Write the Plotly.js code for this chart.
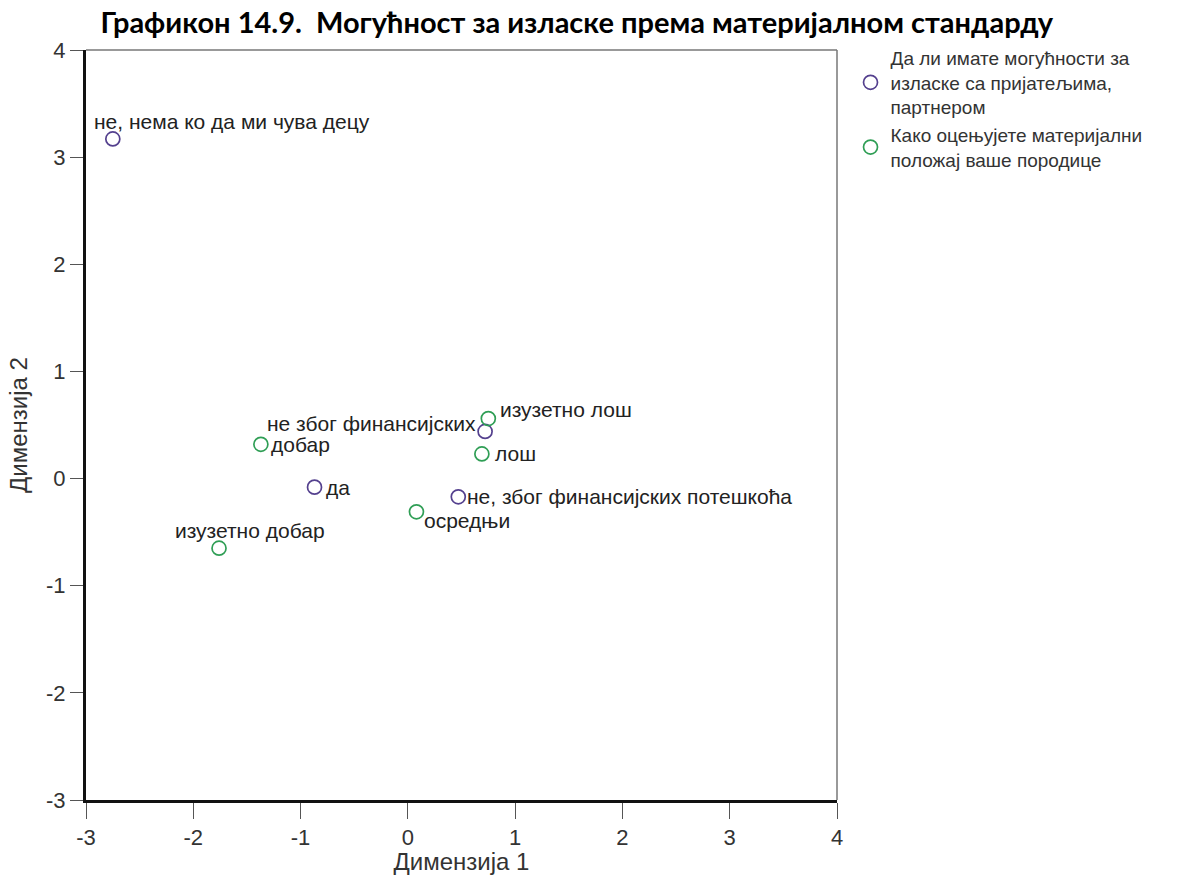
<!DOCTYPE html>
<html>
<head>
<meta charset="utf-8">
<script src="https://cdn.plot.ly/plotly-3.0.1.min.js"></script>
<style>html,body{margin:0;padding:0;background:#fff}#chart{width:1182px;height:875px}</style>
</head>
<body>
<div id="chart"></div>
<script>
// Series 1: Да ли имате могућности за изласке са пријатељима, партнером
const s1Name = "Да ли имате могућности за<br>изласке са пријатељима,<br>партнером";
const s1Labels = ["не, нема ко да ми чува децу", "да", "не због финансијских", "не, због финансијских потешкоћа"];
const s1X = [-2.75, -0.87, 0.72, 0.47];
const s1Y = [3.17, -0.08, 0.44, -0.17];

// Series 2: Како оцењујете материјални положај ваше породице
const s2Name = "Како оцењујете материјални<br>положај ваше породице";
const s2Labels = ["изузетно лош", "лош", "добар", "осредњи", "изузетно добар"];
const s2X = [0.75, 0.69, -1.37, 0.08, -1.76];
const s2Y = [0.56, 0.23, 0.32, -0.31, -0.65];

const xTicks = [-3, -2, -1, 0, 1, 2, 3, 4];
const yTicks = [-3, -2, -1, 0, 1, 2, 3, 4];

// label placement styles (pixel offsets), same order as labels
const s1Place = [
  {xa: "left", xs: -21, ys: 17},
  {xa: "left", xs: 9, ys: 0},
  {xa: "right", xs: -7, ys: 8},
  {xa: "left", xs: 7, ys: 0}
];
const s2Place = [
  {xa: "left", xs: 10, ys: 9},
  {xa: "left", xs: 11, ys: 0},
  {xa: "left", xs: 8, ys: 0},
  {xa: "left", xs: 6, ys: -9},
  {xa: "center", xs: 31, ys: 18}
];

const purple = "#54408e";
const green = "#2f9e55";
const labelFont = {family: "Liberation Sans, Arial, sans-serif", size: 21, color: "#222"};
const axisFont = "Liberation Sans, Arial, sans-serif";

const traces = [
  {x: s1X, y: s1Y, mode: "markers", type: "scatter", name: s1Name, text: s1Labels,
   marker: {symbol: "circle-open", size: 14, color: purple, line: {width: 1.7, color: purple}}},
  {x: s2X, y: s2Y, mode: "markers", type: "scatter", name: s2Name, text: s2Labels,
   marker: {symbol: "circle-open", size: 14, color: green, line: {width: 1.7, color: green}}}
];

const annotations = [];
s1Labels.forEach((t, i) => annotations.push({x: s1X[i], y: s1Y[i], text: t, showarrow: false,
  xanchor: s1Place[i].xa, yanchor: "middle", xshift: s1Place[i].xs, yshift: s1Place[i].ys, font: labelFont}));
s2Labels.forEach((t, i) => annotations.push({x: s2X[i], y: s2Y[i], text: t, showarrow: false,
  xanchor: s2Place[i].xa, yanchor: "middle", xshift: s2Place[i].xs, yshift: s2Place[i].ys, font: labelFont}));

const layout = {
  width: 1182, height: 875,
  paper_bgcolor: "#fff", plot_bgcolor: "#fff",
  margin: {l: 86, r: 345, t: 50, b: 75},
  title: {text: "Графикон 14.9.  Могућност за изласке према материјалном стандарду",
    font: {family: "Lato, Open Sans, sans-serif", size: 29, color: "#000", weight: "bold"},
    x: 0.488, xanchor: "center", y: 0.974, yanchor: "middle"},
  showlegend: true,
  legend: {x: 1.018, xanchor: "left", y: 1.015, yanchor: "top",
    font: {family: "Liberation Sans, Arial, sans-serif", size: 19, color: "#333"},
    bgcolor: "rgba(0,0,0,0)"},
  xaxis: {range: [-3, 4], tickvals: xTicks, ticktext: xTicks.map(String),
    showgrid: false, zeroline: false, showline: true, linecolor: "#111", linewidth: 3,
    ticks: "outside", ticklen: 16, tickwidth: 1, tickcolor: "#555",
    tickfont: {family: axisFont, size: 22, color: "#333"},
    title: {text: "Димензија 1", font: {family: axisFont, size: 24, color: "#333"}, standoff: 2}},
  yaxis: {range: [-3, 4], tickvals: yTicks, ticktext: yTicks.map(String),
    showgrid: false, zeroline: false, showline: true, linecolor: "#111", linewidth: 3,
    ticks: "outside", ticklen: 13, tickwidth: 1, tickcolor: "#555",
    tickfont: {family: axisFont, size: 22, color: "#333"},
    title: {text: "Димензија 2", font: {family: axisFont, size: 24, color: "#333"}, standoff: 12}},
  shapes: [
    {type: "line", xref: "paper", yref: "paper", x0: 0, x1: 1, y0: 1, y1: 1, line: {color: "#777", width: 1.5}},
    {type: "line", xref: "paper", yref: "paper", x0: 1, x1: 1, y0: 0, y1: 1, line: {color: "#777", width: 1.5}}
  ],
  annotations: annotations,
  hovermode: false
};

Plotly.newPlot("chart", traces, layout, {displayModeBar: false, staticPlot: true});
</script>
</body>
</html>
